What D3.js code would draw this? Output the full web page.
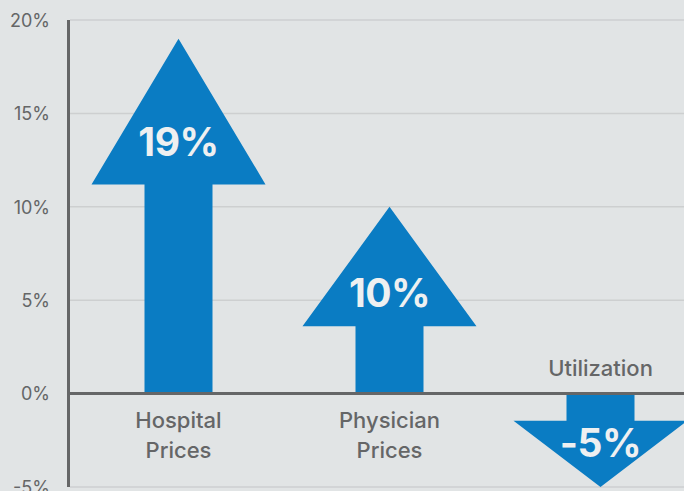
<!DOCTYPE html>
<html>
<head>
<meta charset="utf-8">
<script src="https://cdn.jsdelivr.net/npm/d3@7"></script>
<style>
  html, body { margin: 0; padding: 0; background: #e1e4e5; }
  svg { display: block; }
</style>
</head>
<body>
<svg id="chart" width="684" height="491"></svg>
<script>
// ---- data ----
const categories = ["Hospital Prices", "Physician Prices", "Utilization"];
const labelLines = [["Hospital", "Prices"], ["Physician", "Prices"], ["Utilization"]];
const values = [19, 10, -5];
const valueLabels = ["19%", "10%", "-5%"];
const headBase = [11.2, 3.6, -1.45];   // value where arrow head begins
const yTicks = [-5, 0, 5, 10, 15, 20];
const yTickLabels = ["-5%", "0%", "5%", "10%", "15%", "20%"];

// ---- layout ----
const W = 684, H = 491;
const svg = d3.select("#chart");
const blue = "#0a7cc3";
const grey = "#656667";
const font = "Inter, 'Open Sans', sans-serif";

svg.append("rect").attr("width", W).attr("height", H).attr("fill", "#e1e4e5");

const y = d3.scaleLinear().domain([-5, 20]).range([487, 20]);
const x = d3.scaleBand().domain(categories).range([73, 706]);

// gridlines
svg.append("g").selectAll("line").data(yTicks.filter(t => t !== 0)).join("line")
  .attr("x1", 70).attr("x2", W)
  .attr("y1", d => y(d)).attr("y2", d => y(d))
  .attr("stroke", "#cdcfd0").attr("stroke-width", 1.5);

// y axis labels
const yAxis = d3.axisLeft(y).tickValues(yTicks)
  .tickFormat(d => yTickLabels[yTicks.indexOf(d)]).tickSize(0).tickPadding(18);
const ga = svg.append("g").attr("transform", "translate(68,0)").call(yAxis);
ga.select(".domain").remove();
ga.selectAll("text").attr("font-family", font).attr("font-size", 18)
  .attr("font-weight", 400).attr("fill", grey).attr("dy", "0.35em");

// arrows
const headHalf = 87, stemHalf = 34;
categories.forEach((c, i) => {
  const cx = x(c) + x.bandwidth() / 2;
  const y0 = y(0), yb = y(headBase[i]), yt = y(values[i]);
  const pts = [
    [cx - stemHalf, y0], [cx - stemHalf, yb], [cx - headHalf, yb],
    [cx, yt], [cx + headHalf, yb], [cx + stemHalf, yb], [cx + stemHalf, y0]
  ];
  svg.append("path").attr("d", d3.line()(pts) + "Z").attr("fill", blue);
  const centroid = yb + (yt - yb) / 3;
  const ty = values[i] >= 0 ? centroid + 6 : centroid;
  svg.append("text").attr("x", cx).attr("y", ty).attr("dy", "0.36em")
    .attr("text-anchor", "middle").attr("font-family", font)
    .attr("font-size", 39).attr("font-weight", 700).attr("fill", "#eef0f1")
    .attr("letter-spacing", "-0.5px")
    .text(valueLabels[i]);
  // category labels
  const lines = labelLines[i];
  const t = svg.append("text").attr("text-anchor", "middle")
    .attr("font-family", font).attr("font-size", 22).attr("font-weight", 500)
    .attr("fill", grey);
  if (values[i] >= 0) {
    lines.forEach((l, k) => t.append("tspan").attr("x", cx).attr("y", y0 + 34 + k * 30).text(l));
  } else {
    t.append("tspan").attr("x", cx).attr("y", y0 - 18).text(lines[0]);
  }
});

// zero line and y axis line
svg.append("line").attr("x1", 67).attr("x2", W).attr("y1", y(0)).attr("y2", y(0))
  .attr("stroke", grey).attr("stroke-width", 3);
svg.append("line").attr("x1", 68.5).attr("x2", 68.5).attr("y1", y(20)).attr("y2", y(-5))
  .attr("stroke", grey).attr("stroke-width", 3);
</script>
</body>
</html>
